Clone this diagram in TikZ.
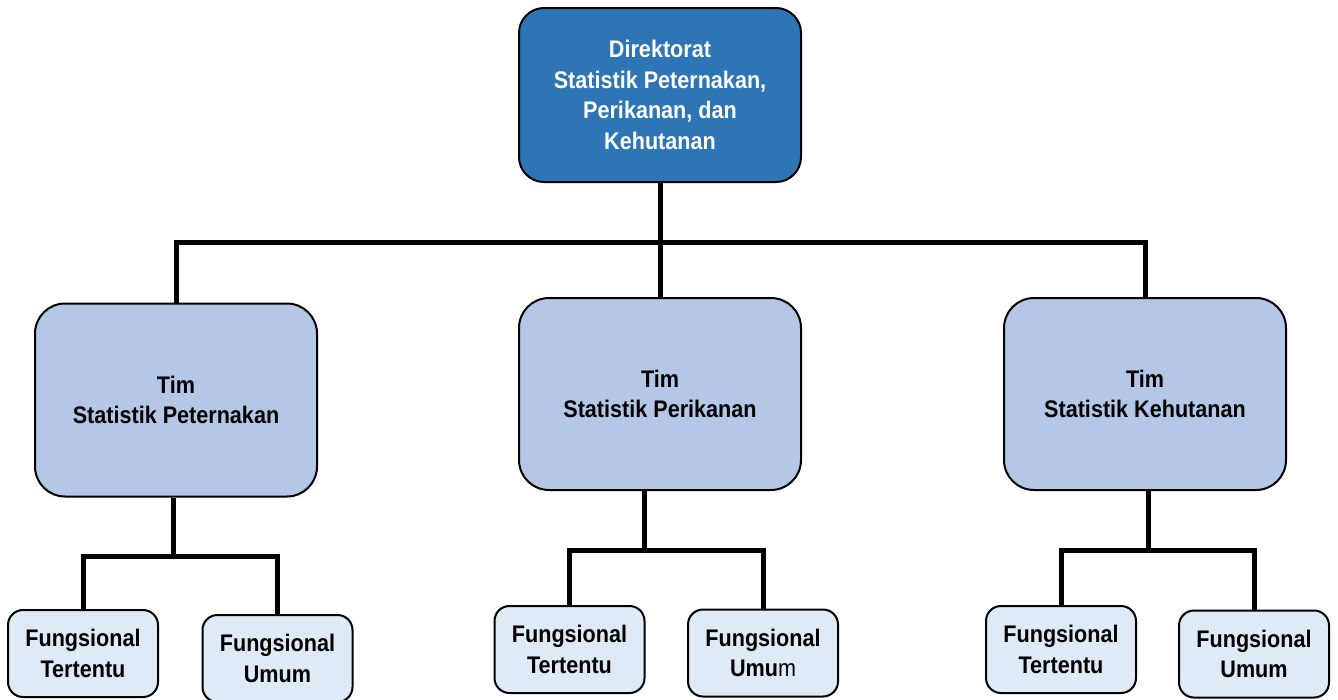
\documentclass[tikz,border=0pt]{standalone}
\usepackage{fontspec}
\setmainfont{Liberation Sans}[FakeStretch=0.9]
\definecolor{topblue}{HTML}{2E75B6}
\definecolor{midblue}{HTML}{B4C7E7}
\definecolor{lowblue}{HTML}{DEEBF7}
\begin{document}
\begin{tikzpicture}[x=1pt,y=-1pt,
  base/.style={draw=black,line width=2pt,align=center,inner sep=0pt,
    font=\fontsize{24pt}{30.5pt}\selectfont\bfseries},
  topbox/.style={base,fill=topblue,text=white,rounded corners=25pt,
    minimum width=282pt,minimum height=174pt},
  midbox/.style={base,fill=midblue,rounded corners=30pt,
    minimum width=282pt,minimum height=192pt},
  lowbox/.style={base,fill=lowblue,rounded corners=15pt,
    minimum width=150pt,minimum height=87pt},
  conn/.style={line width=5pt,line join=miter}]
\useasboundingbox (0,0) rectangle (1338,699);

\node[topbox] (D) at (660,95) {Direktorat\\Statistik Peternakan,\\Perikanan, dan\\Kehutanan};

\node[midbox,minimum height=193pt] (L) at (176,400) {Tim\\Statistik Peternakan};
\node[midbox] (M) at (660,394) {Tim\\Statistik Perikanan};
\node[midbox] (R) at (1145,394) {Tim\\Statistik Kehutanan};

\node[lowbox] (FTL) at (83,653.5) {Fungsional\\Tertentu};
\node[lowbox] (FUL) at (277.5,658.5) {Fungsional\\Umum};
\node[lowbox] (FTM) at (569.5,649.5) {Fungsional\\Tertentu};
\node[lowbox] (FUM) at (763,653) {Fungsional\\{\bfseries Umu}{\mdseries m}};
\node[lowbox] (FTR) at (1061,649.5) {Fungsional\\Tertentu};
\node[lowbox] (FUR) at (1254,654) {Fungsional\\Umum};

% top level connectors
\draw[conn] (D.south) -- (M.north);
\draw[conn] (L.north) -- (L.north |- 0,242) -| (R.north);

% left group
\draw[conn] ([xshift=-3pt]L.south) -- ([xshift=-3pt]L.south |- 0,556);
\draw[conn] (FTL.north) -- (FTL.north |- 0,556) -| (FUL.north);

% middle group
\draw[conn] ([xshift=-16pt]M.south) -- ([xshift=-16pt]M.south |- 0,550);
\draw[conn] (FTM.north) -- (FTM.north |- 0,550) -| (FUM.north);

% right group
\draw[conn] ([xshift=3pt]R.south) -- ([xshift=3pt]R.south |- 0,550);
\draw[conn] (FTR.north) -- (FTR.north |- 0,550) -| (FUR.north);
\end{tikzpicture}
\end{document}
